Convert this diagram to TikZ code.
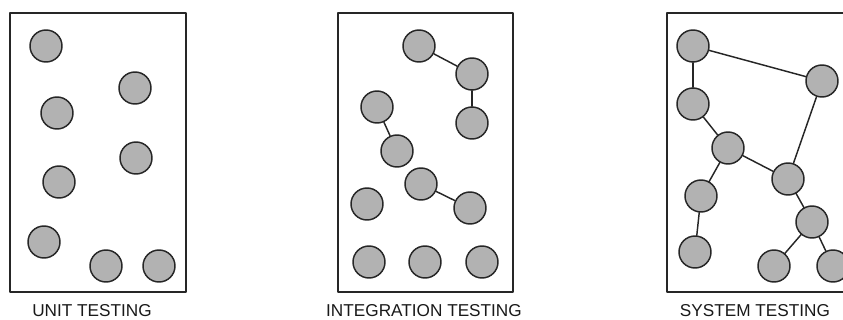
\documentclass[tikz,border=0pt]{standalone}
\usepackage{fontspec}
\setmainfont{Liberation Sans}
\usepackage{tikz}
\tikzset{
  ts sheet/.style={
    x=0.75pt,
    y=-0.75pt,
    line width=0.9pt,
    line cap=round,
    line join=round
  },
  ts box/.style={
    draw=black!85,
    line width=1.2pt
  },
  ts unit/.style={
    circle,
    draw=black!85,
    fill=black!30,
    line width=1.1pt,
    minimum size=24pt,
    inner sep=0pt
  },
  ts link/.style={
    draw=black!85,
    line width=1.1pt
  },
  ts caption/.style={
    font=\fontsize{12.9pt}{14pt}\selectfont,
    text=black!90,
    inner sep=0pt
  }
}

\begin{document}
\begin{tikzpicture}[ts sheet]

  \useasboundingbox (0,0) rectangle (843,320);
  \clip (0,0) rectangle (843,320);

  % unit testing
  \draw[ts box] (10,13) rectangle (186,292);
  \node[ts unit] (u1) at (46,46) {};
  \node[ts unit] (u2) at (135,88) {};
  \node[ts unit] (u3) at (57,113) {};
  \node[ts unit] (u4) at (136,158) {};
  \node[ts unit] (u5) at (59,182) {};
  \node[ts unit] (u6) at (44,242) {};
  \node[ts unit] (u7) at (106,266) {};
  \node[ts unit] (u8) at (159,266) {};
  \node[ts caption] (unit) at (92,311) {UNIT TESTING};

  % integration testing
  \draw[ts box] (338,13) rectangle (513,292);
  \node[ts unit] (i1) at (419,46) {};
  \node[ts unit] (i2) at (472,74) {};
  \node[ts unit] (i3) at (472,123) {};
  \node[ts unit] (i4) at (377,107) {};
  \node[ts unit] (i5) at (397,151) {};
  \node[ts unit] (i6) at (421,184) {};
  \node[ts unit] (i7) at (470,208) {};
  \node[ts unit] (i8) at (367,204) {};
  \node[ts unit] (i9) at (369,262) {};
  \node[ts unit] (i10) at (425,262) {};
  \node[ts unit] (i11) at (482,262) {};
  \draw[ts link] (i1) -- (i2);
  \draw[ts link] (i2) -- (i3);
  \draw[ts link] (i4) -- (i5);
  \draw[ts link] (i6) -- (i7);
  \node[ts caption] (integration) at (424,311) {INTEGRATION TESTING};

  % system testing
  \draw[ts box] (667,13) rectangle (855,292);
  \node[ts unit] (s1) at (693,46) {};
  \node[ts unit] (s2) at (822,81) {};
  \node[ts unit] (s3) at (693,104) {};
  \node[ts unit] (s4) at (728,148) {};
  \node[ts unit] (s5) at (788,179) {};
  \node[ts unit] (s6) at (701,196) {};
  \node[ts unit] (s7) at (812,222) {};
  \node[ts unit] (s8) at (695,252) {};
  \node[ts unit] (s9) at (774,266) {};
  \node[ts unit] (s10) at (833,266) {};
  \draw[ts link] (s1) -- (s2);
  \draw[ts link] (s1) -- (s3);
  \draw[ts link] (s3) -- (s4);
  \draw[ts link] (s4) -- (s5);
  \draw[ts link] (s2) -- (s5);
  \draw[ts link] (s4) -- (s6);
  \draw[ts link] (s6) -- (s8);
  \draw[ts link] (s5) -- (s7);
  \draw[ts link] (s7) -- (s9);
  \draw[ts link] (s7) -- (s10);
  \node[ts caption] (system) at (755,311) {SYSTEM TESTING};

\end{tikzpicture}
\end{document}
